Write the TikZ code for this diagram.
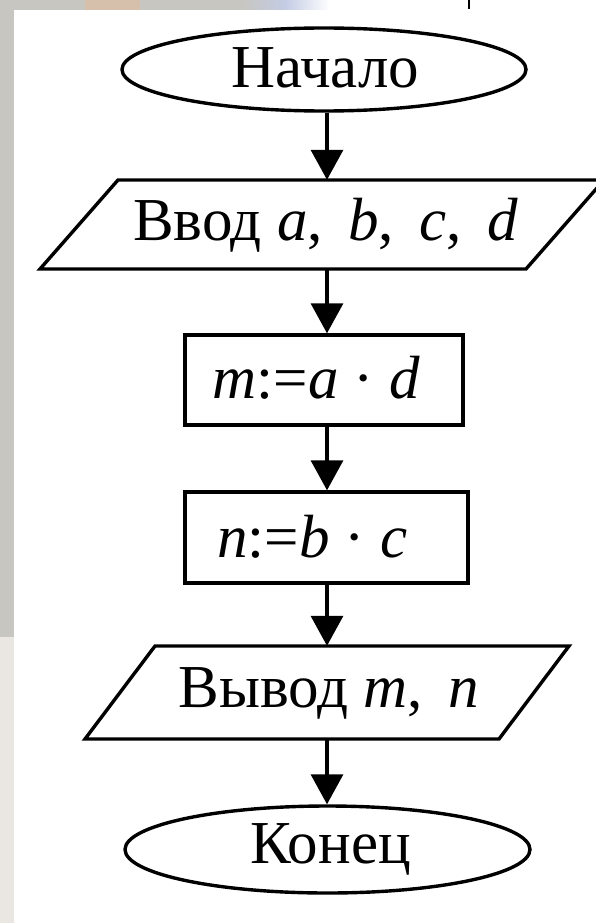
\documentclass[tikz,border=0pt]{standalone}
\usepackage{fontspec}
\setmainfont{Liberation Serif}
\usetikzlibrary{shapes.geometric,arrows.meta}
\definecolor{bggray}{RGB}{200,198,192}
\definecolor{bglight}{RGB}{234,231,226}
\definecolor{bgtan}{RGB}{214,192,172}
\definecolor{bgblue}{RGB}{196,204,228}
\begin{document}
\begin{tikzpicture}[x=1pt,y=-1pt,
  shp/.style={draw=black, line width=3.4pt, fill=white},
  lbl/.style={font=\fontsize{61}{64}\selectfont, inner sep=0pt, anchor=base},
  hold/.style={draw=none, inner sep=0pt, minimum width=380pt},
  flow/.style={line width=3.4pt, -{Triangle[length=30pt,width=32pt]}}]
\useasboundingbox (0,0) rectangle (596,923);
\clip (0,0) rectangle (596,923);
% background
\fill[white] (0,0) rectangle (596,923);
\fill[bggray] (0,0) rectangle (240,10);
\fill[bgtan] (85,0) rectangle (140,10);
\shade[left color=bggray, right color=bgblue] (240,0) rectangle (285,10);
\shade[left color=bgblue, right color=white] (285,0) rectangle (330,10);
\fill[bggray] (0,0) rectangle (14,637);
\fill[bglight] (0,637) rectangle (14,923);
\draw[line width=1.5pt] (469,0) -- (469,9);
\coordinate (spine) at (327,0);
% shapes
\node[shp, ellipse, minimum width=404pt, minimum height=83pt, inner sep=0pt] (start) at (324,69.5) {};
\draw[shp] (118,180) -- (604,180) -- (526,269) -- (40,269) -- cycle;
\node[hold, minimum height=89pt] (in) at (322,224.5) {};
\node[shp, rectangle, minimum width=278pt, minimum height=90pt, inner sep=0pt] (m) at (324,380) {};
\node[shp, rectangle, minimum width=283pt, minimum height=91pt, inner sep=0pt] (n) at (326.5,537.5) {};
\draw[shp] (155,646) -- (569,646) -- (499,739) -- (85,739) -- cycle;
\node[hold, minimum height=93pt] (out) at (327,692.5) {};
\node[shp, ellipse, minimum width=405pt, minimum height=87pt, inner sep=0pt] (end) at (327.5,849.5) {};
% labels
\node[lbl] (startT) at (325.5,88) {Начало};
\node[lbl] (inT) at (325.5,240) {Ввод \textit{a},\, \textit{b},\, \textit{c},\, \textit{d}};
\node[lbl] (mT) at (316.5,398) {\textit{m}:=\textit{a} · \textit{d}};
\node[lbl] (nT) at (312.5,557) {\textit{n}:=\textit{b} · \textit{c}};
\node[lbl] (outT) at (329,707) {Вывод \textit{m},\, \textit{n}};
\node[lbl] (endT) at (330.5,863) {Конец};
% connectors
\draw[flow] (start.south -| spine) -- (in.north -| spine);
\draw[flow] (in.south -| spine) -- (m.north -| spine);
\draw[flow] (m.south -| spine) -- (n.north -| spine);
\draw[flow] (n.south -| spine) -- (out.north -| spine);
\draw[flow] (out.south -| spine) -- (end.north -| spine);
\end{tikzpicture}
\end{document}
